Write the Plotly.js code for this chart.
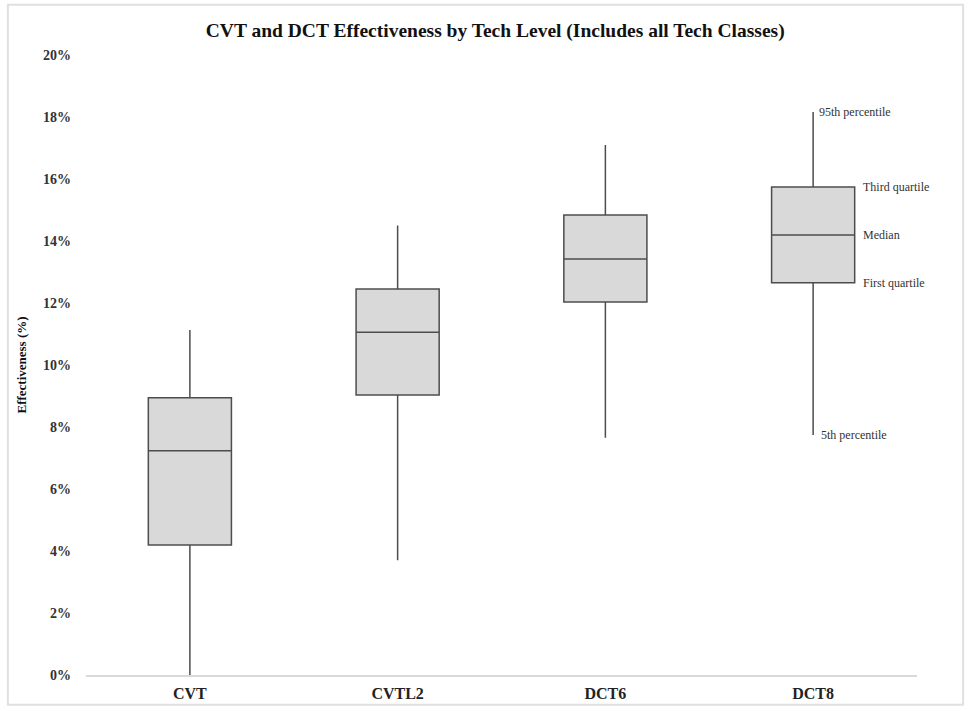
<!DOCTYPE html>
<html>
<head>
<meta charset="utf-8">
<script src="https://cdn.plot.ly/plotly-3.0.1.min.js"></script>
<style>html,body{margin:0;padding:0;background:#fff;}#chart{width:971px;height:711px;}</style>
</head>
<body>
<div id="chart"></div>
<script>
// Data (fractions; axis formatted as %)
const categories = ["CVT", "CVTL2", "DCT6", "DCT8"];
const p5     = [0.000, 0.037, 0.0765, 0.0774];
const q1     = [0.0419, 0.0903, 0.1203, 0.1265];
const median = [0.0723, 0.1106, 0.1342, 0.1419];
const q3     = [0.0894, 0.1245, 0.1484, 0.1574];
const p95    = [0.1113, 0.1450, 0.1710, 0.1816];
const yTickVals = [0, 0.02, 0.04, 0.06, 0.08, 0.10, 0.12, 0.14, 0.16, 0.18, 0.20];
const labelNames = ["95th percentile", "Third quartile", "Median", "First quartile", "5th percentile"];

const serif = "Liberation Serif, Times New Roman, serif";

const trace = {
  type: "box",
  x: categories,
  q1: q1,
  median: median,
  q3: q3,
  lowerfence: p5,
  upperfence: p95,
  width: 0.4,
  fillcolor: "#d9d9d9",
  line: { color: "#4d4d4d", width: 1.5 },
  whiskerwidth: 0,
  boxpoints: false,
  hoverinfo: "none",
  showlegend: false
};

const last = categories.length - 1;
const annVals = [p95[last], q3[last], median[last], q1[last], p5[last]];
const annShift = [4, 48, 48, 48, 6];
const annotations = labelNames.map((t, i) => ({
  x: categories[last], y: annVals[i], xref: "x", yref: "y",
  text: t, showarrow: false, xanchor: "left", yanchor: "middle",
  xshift: annShift[i], font: { family: serif, size: 12, color: "#333" }
}));

const layout = {
  width: 971, height: 711,
  margin: { l: 86, r: 54, t: 55, b: 36 },
  paper_bgcolor: "#fff", plot_bgcolor: "#fff",
  title: {
    text: "<b>CVT and DCT Effectiveness by Tech Level (Includes all Tech Classes)</b>",
    font: { family: serif, size: 19.5, color: "#111" },
    x: 0.51, xanchor: "center", y: 0.958, yanchor: "middle"
  },
  xaxis: {
    type: "category",
    range: [-0.5, 3.5],
    showgrid: false, zeroline: false,
    showline: true, linecolor: "#d9d9d9", linewidth: 1.5,
    ticks: "",
    ticklabelstandoff: 3,
    tickfont: { family: serif, size: 16, color: "#222", weight: "bold" }
  },
  yaxis: {
    range: [0, 0.20],
    tickvals: yTickVals,
    tickformat: ".0%",
    showgrid: false, zeroline: false, showline: false,
    ticks: "",
    ticklabelstandoff: 14,
    tickfont: { family: serif, size: 14, color: "#333", weight: "bold" },
    title: { text: "<b>Effectiveness (%)</b>", font: { family: serif, size: 13, color: "#111" }, standoff: 13 }
  },
  annotations: annotations,
  shapes: [{
    type: "rect", xref: "paper", yref: "paper",
    x0: -0.094, x1: 1.0555, y0: -0.048, y1: 1.081,
    line: { color: "#e0e0e0", width: 2 }, fillcolor: "rgba(0,0,0,0)", layer: "below"
  }]
};

Plotly.newPlot("chart", [trace], layout, { displayModeBar: false, staticPlot: true });
</script>
</body>
</html>
